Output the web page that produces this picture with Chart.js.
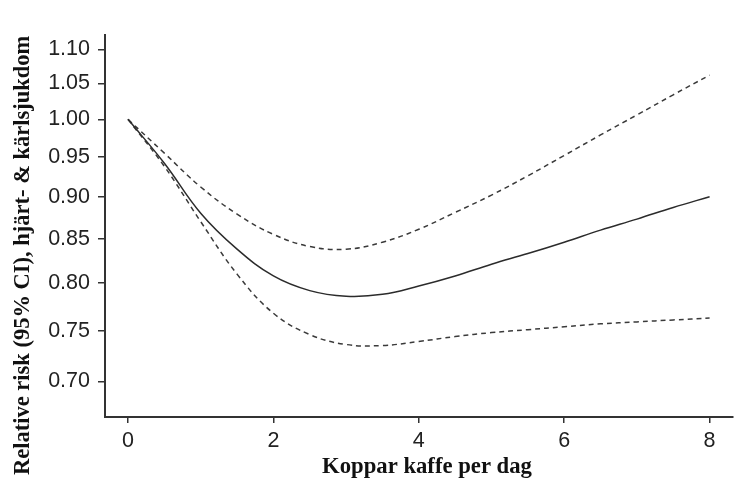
<!DOCTYPE html>
<html>
<head>
<meta charset="utf-8">
<script src="https://cdn.jsdelivr.net/npm/chart.js@4/dist/chart.umd.min.js"></script>
<style>
  html, body { margin: 0; padding: 0; background: #fff; }
  #wrap { width: 740px; height: 492px; }
</style>
</head>
<body>
<div id="wrap"><canvas id="chart"></canvas></div>
<script>
// koppar per dag
var cups = [0, 0.5, 1, 1.5, 2, 2.5, 3, 3.5, 4, 4.5, 5, 5.5, 6, 6.5, 7, 7.5, 8];
// relativ risk, skattning och 95% KI
var riskEst   = [1.000, 0.942, 0.880, 0.838, 0.808, 0.792, 0.786, 0.788, 0.797, 0.808, 0.821, 0.833, 0.846, 0.860, 0.873, 0.887, 0.900];
var riskUpper = [1.000, 0.955, 0.912, 0.879, 0.855, 0.841, 0.838, 0.846, 0.861, 0.881, 0.902, 0.926, 0.952, 0.979, 1.006, 1.034, 1.062];
var riskLower = [1.000, 0.938, 0.870, 0.810, 0.768, 0.746, 0.736, 0.735, 0.739, 0.744, 0.748, 0.751, 0.754, 0.757, 0.759, 0.761, 0.763];

var xTicks = [0, 2, 4, 6, 8];
var yTicks = [0.70, 0.75, 0.80, 0.85, 0.90, 0.95, 1.00, 1.05, 1.10];

var xTitle = 'Koppar kaffe per dag';
var yTitle = 'Relative risk (95% CI), hjärt- & kärlsjukdom';

function toPoints(values) {
    return cups.map(function (c, i) { return { x: c, y: values[i] }; });
}

function lineSet(label, values, dashed) {
    return {
        label: label,
        data: toPoints(values),
        borderColor: dashed ? '#3a3a3a' : '#2b2b2b',
        borderWidth: 1.5,
        borderDash: dashed ? [5, 4] : [],
        pointRadius: 0,
        fill: false,
        tension: 0.4
    };
}

// axeltitlarna ligger inte mitt på axlarna, så de ritas för hand
var titlePlugin = {
    id: 'axisTitles',
    afterDraw: function (chart) {
        var ctx = chart.ctx;
        ctx.save();
        ctx.fillStyle = '#111';
        ctx.textBaseline = 'alphabetic';

        ctx.font = 'bold 22.7px "Liberation Serif"';
        ctx.textAlign = 'center';
        ctx.fillText(xTitle, 427, 473);

        ctx.translate(29, 475);
        ctx.rotate(-Math.PI / 2);
        ctx.font = 'bold 22.5px "Liberation Serif"';
        ctx.textAlign = 'left';
        ctx.fillText(yTitle, 0, 0);
        ctx.restore();
    }
};

var tickFont = { family: '"Liberation Sans", Arial, sans-serif', size: 21.5 };

new Chart(document.getElementById('chart').getContext('2d'), {
    type: 'line',
    data: {
        datasets: [
            lineSet('RR', riskEst, false),
            lineSet('Övre KI', riskUpper, true),
            lineSet('Nedre KI', riskLower, true)
        ]
    },
    options: {
        responsive: true,
        maintainAspectRatio: false,
        animation: false,
        layout: { padding: { left: 0, right: 7, top: 35, bottom: 0 } },
        plugins: {
            legend: { display: false },
            tooltip: { enabled: false }
        },
        scales: {
            x: {
                type: 'linear',
                min: -0.3165,
                max: 8.322,
                afterBuildTicks: function (s) { s.ticks = xTicks.map(function (v) { return { value: v }; }); },
                afterFit: function (s) { s.height = 75; },
                ticks: { font: tickFont, color: '#222', padding: 5, maxRotation: 0 },
                grid: { display: true, drawOnChartArea: false, drawTicks: true, tickLength: 6, color: '#333', lineWidth: 1.5 },
                border: { display: true, color: '#333', width: 2 }
            },
            y: {
                type: 'logarithmic',
                min: 0.6668,
                max: 1.1217,
                afterBuildTicks: function (s) { s.ticks = yTicks.map(function (v) { return { value: v }; }); },
                afterFit: function (s) { s.width = 105; },
                ticks: {
                    font: tickFont,
                    color: '#222',
                    padding: 8,
                    callback: function (v) { return Number(v).toFixed(2); }
                },
                grid: { display: true, drawOnChartArea: false, drawTicks: true, tickLength: 7, color: '#333', lineWidth: 1.5 },
                border: { display: true, color: '#333', width: 2 }
            }
        }
    },
    plugins: [titlePlugin]
});
</script>
</body>
</html>
